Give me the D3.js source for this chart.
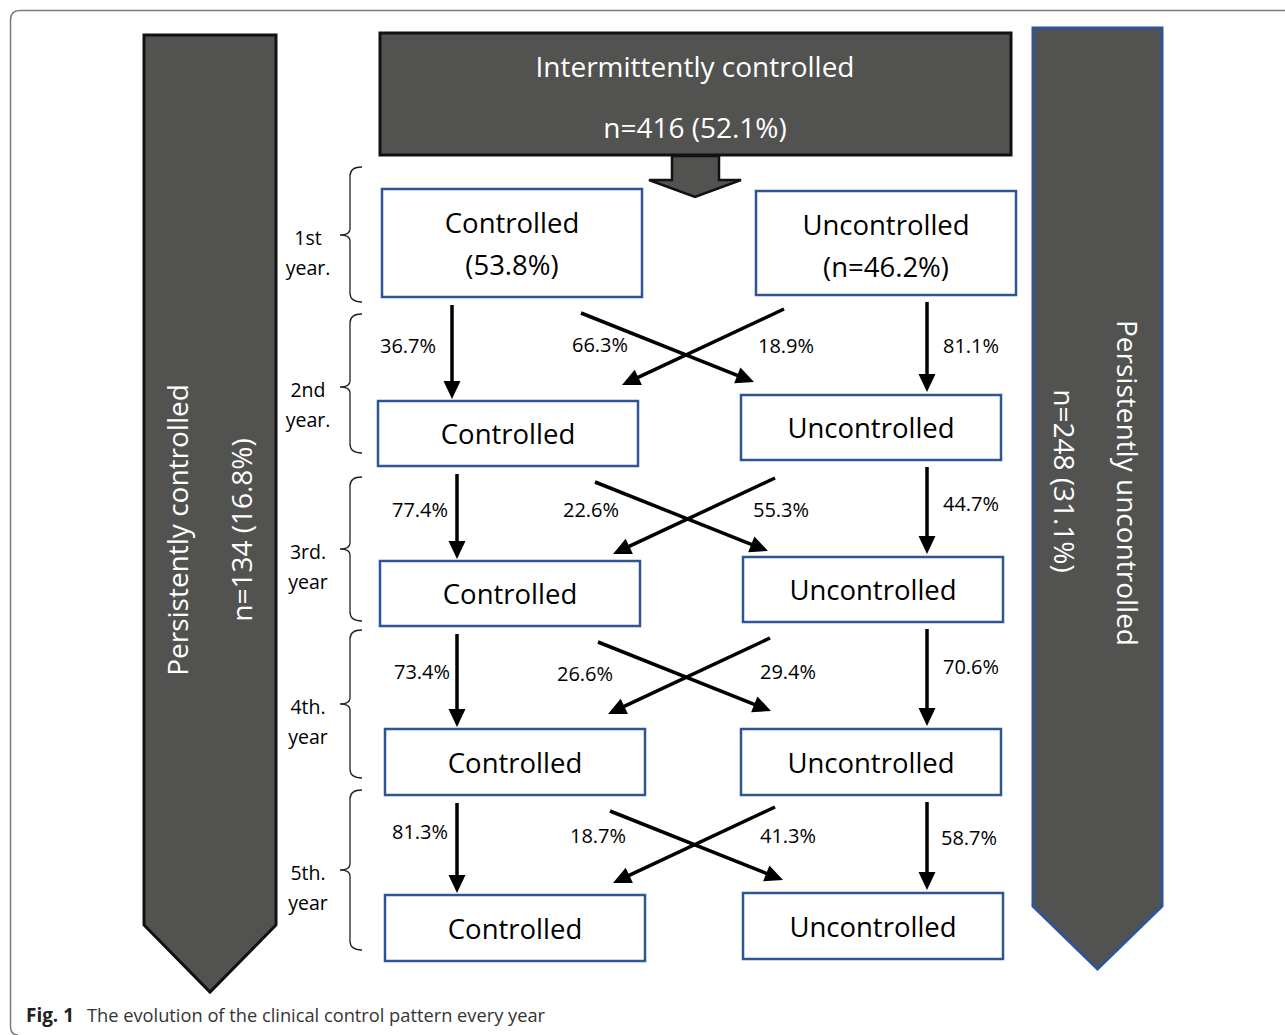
<!DOCTYPE html>
<html>
<head>
<meta charset="utf-8">
<script src="https://cdn.jsdelivr.net/npm/d3@7"></script>
<style>
  html, body { margin: 0; padding: 0; background: #fff; }
  svg { display: block; }
  text { font-family: "Open Sans", "DejaVu Sans", sans-serif; }
</style>
</head>
<body>
<svg id="chart" width="1285" height="1035"></svg>
<script>
// ---------------- DATA ----------------
const columns = ["Controlled", "Uncontrolled"];
const yearLabels = [["1st", "year."], ["2nd", "year."], ["3rd.", "year"], ["4th.", "year"], ["5th.", "year"]];
const firstYearShares = ["(53.8%)", "(n=46.2%)"];
const stayControlled = [36.7, 77.4, 73.4, 81.3];
const controlledToUncontrolled = [66.3, 22.6, 26.6, 18.7];
const uncontrolledToControlled = [18.9, 55.3, 29.4, 41.3];
const stayUncontrolled = [81.1, 44.7, 70.6, 58.7];
const groupNames = ["Persistently controlled", "Intermittently controlled", "Persistently uncontrolled"];
const groupN = [134, 416, 248];
const groupPct = [16.8, 52.1, 31.1];
const captionLabel = "Fig. 1";
const captionText = "The evolution of the clinical control pattern every year";

// ---------------- LAYOUT ----------------
const W = 1285, H = 1035;
const DARK = "#525251", BLUE = "#2F5597";
const svg = d3.select("#chart");
const rows = d3.range(yearLabels.length);
const trans = d3.range(stayControlled.length);

const xCol = d3.scaleBand().domain(columns).range([382, 1002]).paddingInner(100 / 360);
const bw = xCol.bandwidth();
const colShift = {
  Controlled: d3.scaleOrdinal().domain(rows).range([0, -4, -2, 3, 3]),
  Uncontrolled: d3.scaleOrdinal().domain(rows).range([14, -1, 1, -1, 1])
};
const boxTop = {
  Controlled: d3.scaleOrdinal().domain(rows).range([189, 401, 561, 729, 895]),
  Uncontrolled: d3.scaleOrdinal().domain(rows).range([191, 395, 557, 729, 893])
};
const boxH = {
  Controlled: d3.scaleOrdinal().domain(rows).range([108, 65, 65, 66, 66]),
  Uncontrolled: d3.scaleOrdinal().domain(rows).range([104, 65, 65, 66, 66])
};
const braceY = d3.scaleOrdinal().domain(rows).range([[167, 302], [314, 453], [477, 621], [630, 778], [790, 950]]);
const braceMid = d3.scaleOrdinal().domain(rows).range([235, 387, 549, 704, 870]);
const crossStartCU = d3.scaleOrdinal().domain(trans).range([581, 595, 598, 610]);
const crossStartUC = d3.scaleOrdinal().domain(trans).range([784, 775, 770, 775]);
const downXC = d3.scaleOrdinal().domain(trans).range([452, 457, 457, 457]);
// label positions [x, y] per transition
const labSC = d3.scaleOrdinal().domain(trans).range([[408, 345], [420, 509], [422, 671], [420, 831]]);
const labCU = d3.scaleOrdinal().domain(trans).range([[600, 344], [591, 509], [585, 673], [598, 835]]);
const labUC = d3.scaleOrdinal().domain(trans).range([[786, 345], [781, 509], [788, 671], [788, 835]]);
const labSU = d3.scaleOrdinal().domain(trans).range([[971, 345], [971, 503], [971, 666], [969, 837]]);

function bx(col, r) { return xCol(col) + colShift[col](r); }
function bTop(col, r) { return boxTop[col](r); }
function bBot(col, r) { return boxTop[col](r) + boxH[col](r); }

// ---------------- FRAME ----------------
svg.append("path")
  .attr("d", `M${W},10.5 L20,10.5 Q10.5,10.5 10.5,20 L10.5,1026 Q10.5,1035 18,1035`)
  .attr("fill", "none").attr("stroke", "#7a7a7a").attr("stroke-width", 1.5);

// ---------------- SIDE ARROWS ----------------
function bigArrow(x0, x1, yTop, yBody, yTip, stroke) {
  const xm = (x0 + x1) / 2;
  svg.append("path")
    .attr("d", `M${x0},${yTop} L${x1},${yTop} L${x1},${yBody} L${xm},${yTip} L${x0},${yBody} Z`)
    .attr("fill", DARK).attr("stroke", stroke).attr("stroke-width", 3);
}
bigArrow(144, 276, 35, 925, 992, "#111");
bigArrow(1033, 1162, 28, 906, 969, BLUE);

function rotText(x, y, angle, txt, size) {
  svg.append("text")
    .attr("transform", `translate(${x},${y}) rotate(${angle})`)
    .attr("text-anchor", "middle").attr("dominant-baseline", "central")
    .attr("fill", "#fff").attr("font-size", size).text(txt);
}
rotText(177, 530, -90, groupNames[0], 28);
rotText(241, 530, -90, `n=${groupN[0]} (${groupPct[0]}%)`, 28);
rotText(1128, 483, 90, groupNames[2], 28);
rotText(1065, 481, 90, `n=${groupN[2]} (${groupPct[2]}%)`, 28);

// ---------------- TOP BOX ----------------
svg.append("rect").attr("x", 380).attr("y", 33).attr("width", 631).attr("height", 122)
  .attr("fill", DARK).attr("stroke", "#111").attr("stroke-width", 3);
svg.append("text").attr("x", 695).attr("y", 66).attr("text-anchor", "middle")
  .attr("dominant-baseline", "central").attr("fill", "#fff").attr("font-size", 28).text(groupNames[1]);
svg.append("text").attr("x", 695).attr("y", 127).attr("text-anchor", "middle")
  .attr("dominant-baseline", "central").attr("fill", "#fff").attr("font-size", 28)
  .text(`n=${groupN[1]} (${groupPct[1]}%)`);
svg.append("path")
  .attr("d", "M672,156 L719,156 L719,180 L741,180 L695,197 L649,180 L672,180 Z")
  .attr("fill", DARK).attr("stroke", "#111").attr("stroke-width", 2.5).attr("stroke-linejoin", "miter");

// ---------------- BOXES ----------------
rows.forEach(r => {
  columns.forEach((col, ci) => {
    const x = bx(col, r), y = bTop(col, r), h = boxH[col](r);
    svg.append("rect").attr("x", x).attr("y", y).attr("width", bw).attr("height", h)
      .attr("fill", "#fff").attr("stroke", BLUE).attr("stroke-width", 2.5);
    if (r === 0) {
      svg.append("text").attr("x", x + bw / 2).attr("y", y + 33).attr("text-anchor", "middle")
        .attr("dominant-baseline", "central").attr("font-size", 27.5).attr("fill", "#000").text(col);
      svg.append("text").attr("x", x + bw / 2).attr("y", y + 75).attr("text-anchor", "middle")
        .attr("dominant-baseline", "central").attr("font-size", 27.5).attr("fill", "#000").text(firstYearShares[ci]);
    } else {
      svg.append("text").attr("x", x + bw / 2).attr("y", y + h / 2).attr("text-anchor", "middle")
        .attr("dominant-baseline", "central").attr("font-size", 27.5).attr("fill", "#000").text(col);
    }
  });
});

// ---------------- BRACES + YEAR LABELS ----------------
rows.forEach(r => {
  const [t, b] = braceY(r), m = braceMid(r);
  const xv = 350;
  svg.append("path")
    .attr("d", `M${xv + 12},${t} Q${xv},${t} ${xv},${t + 9} L${xv},${m - 6} Q${xv},${m} ${xv - 10},${m} Q${xv},${m} ${xv},${m + 6} L${xv},${b - 9} Q${xv},${b} ${xv + 12},${b}`)
    .attr("fill", "none").attr("stroke", "#222").attr("stroke-width", 1.3);
  yearLabels[r].forEach((s, i) => {
    svg.append("text").attr("x", 308).attr("y", m + 2 + i * 30).attr("text-anchor", "middle")
      .attr("dominant-baseline", "central").attr("font-size", 19.5).attr("fill", "#000").text(s);
  });
});

// ---------------- TRANSITION ARROWS ----------------
function arrow(x1, y1, x2, y2) {
  const L = 18, hw = 8.5;
  const dx = x2 - x1, dy = y2 - y1, len = Math.hypot(dx, dy);
  const ux = dx / len, uy = dy / len;
  const bxp = x2 - ux * L, byp = y2 - uy * L;
  svg.append("line").attr("x1", x1).attr("y1", y1).attr("x2", bxp + ux * 2).attr("y2", byp + uy * 2)
    .attr("stroke", "#000").attr("stroke-width", 3.5);
  svg.append("polygon")
    .attr("points", `${x2},${y2} ${bxp - uy * hw},${byp + ux * hw} ${bxp + uy * hw},${byp - ux * hw}`)
    .attr("fill", "#000");
}
function pctLabel(p, v) {
  svg.append("text").attr("x", p[0]).attr("y", p[1]).attr("text-anchor", "middle")
    .attr("dominant-baseline", "central").attr("font-size", 20).attr("fill", "#000").text(v.toFixed(1) + "%");
}

trans.forEach(i => {
  const r0 = i, r1 = i + 1;
  const gapTop = Math.max(bBot("Controlled", r0), bBot("Uncontrolled", r0));
  const xc = downXC(i);
  arrow(xc, bBot("Controlled", r0) + 8, xc, bTop("Controlled", r1) - 2);
  pctLabel(labSC(i), stayControlled[i]);
  const xu = xCol("Uncontrolled") + 185;
  arrow(xu, bBot("Uncontrolled", r0) + 7, xu, bTop("Uncontrolled", r1) - 3);
  pctLabel(labSU(i), stayUncontrolled[i]);
  const sx1 = crossStartCU(i), sy1 = gapTop + 16;
  arrow(sx1, sy1, sx1 + 173, sy1 + 69);
  pctLabel(labCU(i), controlledToUncontrolled[i]);
  const sx2 = crossStartUC(i), sy2 = gapTop + 12;
  arrow(sx2, sy2, sx2 - 162, sy2 + 76);
  pctLabel(labUC(i), uncontrolledToControlled[i]);
});

// ---------------- CAPTION ----------------
svg.append("text").attr("x", 26).attr("y", 1022).attr("font-size", 19).attr("font-weight", "bold")
  .attr("fill", "#222").attr("textLength", 48).attr("lengthAdjust", "spacingAndGlyphs").text(captionLabel);
svg.append("text").attr("x", 87).attr("y", 1022).attr("font-size", 19).attr("fill", "#333")
  .attr("textLength", 458).attr("lengthAdjust", "spacingAndGlyphs").text(captionText);
</script>
</body>
</html>
